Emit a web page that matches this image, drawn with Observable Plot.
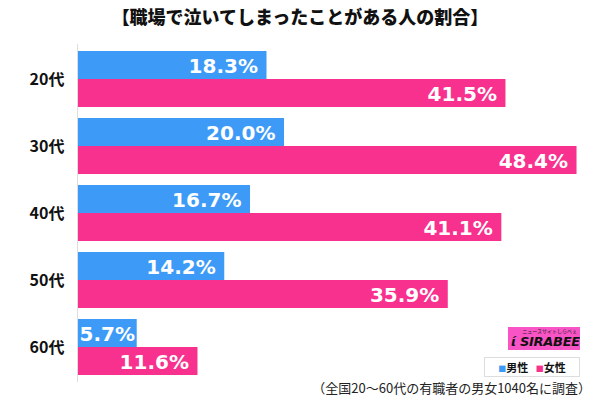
<!DOCTYPE html>
<html><head><meta charset="utf-8">
<script src="https://cdn.jsdelivr.net/npm/d3@7"></script>
<script src="https://cdn.jsdelivr.net/npm/@observablehq/plot@0.6"></script>
<style>
body{margin:0;background:#fff;font-family:"Noto Sans CJK JP",sans-serif;}
#wrap{position:relative;width:600px;height:402px;overflow:hidden;background:#fff;}
#chart{position:absolute;left:0;top:0;}
#title{position:absolute;top:3px;left:0;width:600px;text-align:center;font-size:18px;font-weight:900;color:#111;line-height:26px;}
#logo{position:absolute;left:508px;top:327px;width:72px;height:23px;background:#f954c6;overflow:hidden;}
#logo .sub{position:absolute;right:3px;top:1px;font-size:5px;line-height:6px;color:#222;white-space:nowrap;}
#logo .main{position:absolute;left:3px;top:8px;font-family:"DejaVu Sans",sans-serif;font-style:italic;font-weight:900;font-size:13px;line-height:14px;color:#111;letter-spacing:-0.3px;white-space:nowrap;}
#legend{position:absolute;left:484px;top:357px;width:94px;height:18px;border:1px solid #ddd;background:#fff;font-size:11px;font-weight:bold;line-height:18px;text-align:center;color:#111;}
#caption{position:absolute;right:9px;top:378px;font-size:13px;line-height:20px;color:#222;white-space:nowrap;}
</style></head>
<body>
<div id="wrap">
  <div id="chart"></div>
  <div id="title">【職場で泣いてしまったことがある人の割合】</div>
  <div id="logo"><span class="sub">ニュースサイトしらべぇ</span><span class="main">ί SIRABEE</span></div>
  <div id="legend"><span style="color:#3d9bf7;font-size:8px">■</span>男性&nbsp;&nbsp;&nbsp;<span style="color:#f7318d;font-size:8px">■</span>女性</div>
  <div id="caption">（全国20～60代の有職者の男女1040名に調査）</div>
</div>
<script>
const ages = ["20代", "30代", "40代", "50代", "60代"];
const genders = ["男性", "女性"];
const maleValues = [18.3, 20.0, 16.7, 14.2, 5.7];
const femaleValues = [41.5, 48.4, 41.1, 35.9, 11.6];
const colors = ["#3d9bf7", "#f7318d"];

const rows = [];
ages.forEach((a, i) => {
  rows.push({age: a, gender: genders[0], value: maleValues[i]});
  rows.push({age: a, gender: genders[1], value: femaleValues[i]});
});
const labelStyle = {fill: "white", fontSize: 20, fontWeight: "bold", fontFamily: "DejaVu Sans", dy: 1};
const fmt = d => d.value.toFixed(1) + "%";

const chart = Plot.plot({
  width: 600,
  height: 402,
  marginTop: 50,
  marginBottom: 26,
  marginLeft: 78,
  marginRight: 7,
  style: {fontSize: "16px", fontWeight: "bold", fontFamily: "'Noto Sans CJK JP', sans-serif", color: "#111", background: "transparent"},
  x: {domain: [0, 50], axis: null},
  y: {domain: genders, padding: 0, axis: null},
  fy: {domain: ages, paddingInner: 0.17, paddingOuter: 0, label: null, tickSize: 0, tickPadding: 14},
  color: {domain: genders, range: colors},
  marks: [
    Plot.ruleX([0], {stroke: "#dedede", strokeWidth: 1, dx: -1, insetTop: -7, insetBottom: -7}),
    Plot.barX(rows, {x: "value", y: "gender", fy: "age", fill: "gender"}),
    Plot.text(rows.filter(d => d.value >= 8), {x: "value", y: "gender", fy: "age", text: fmt, textAnchor: "end", dx: -9, ...labelStyle}),
    Plot.text(rows.filter(d => d.value < 8), {x: 0, y: "gender", fy: "age", text: fmt, textAnchor: "start", dx: 1, ...labelStyle})
  ]
});
document.getElementById("chart").appendChild(chart);
</script>
</body></html>
